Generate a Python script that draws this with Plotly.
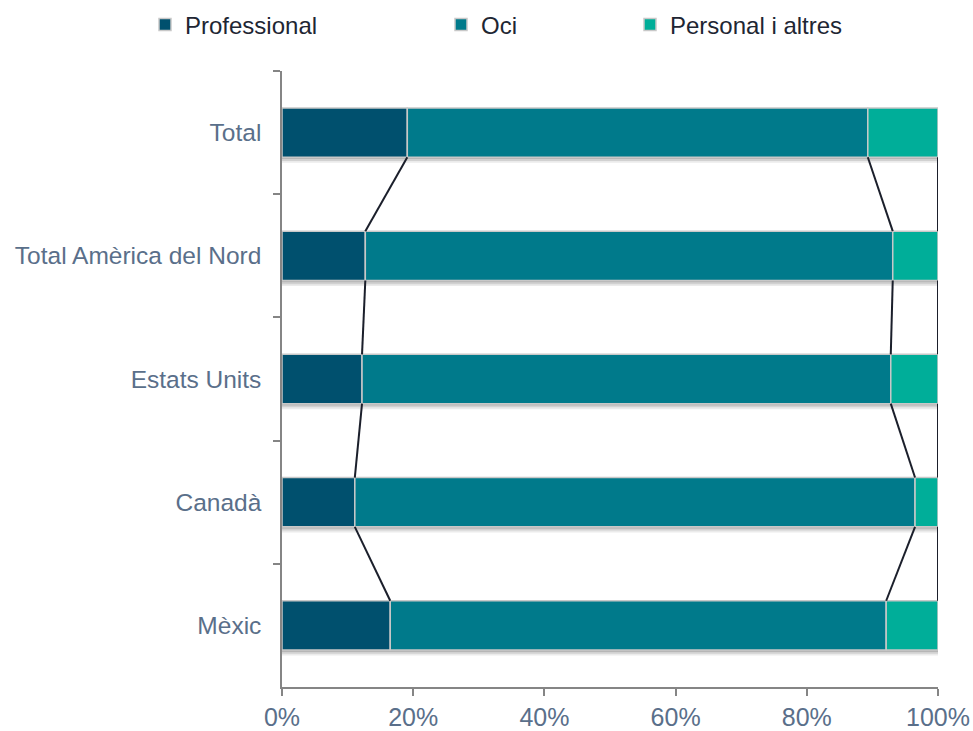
import plotly.graph_objects as go

categories = ["Total", "Total Amèrica del Nord", "Estats Units", "Canadà", "Mèxic"]
professional = [19.1, 12.7, 12.2, 11.1, 16.5]
oci = [70.2, 80.4, 80.6, 85.4, 75.6]
personal = [10.7, 6.9, 7.2, 3.5, 7.9]
x_ticks = [0, 20, 40, 60, 80, 100]
x_tick_labels = ["0%", "20%", "40%", "60%", "80%", "100%"]

series_names = ["Professional", "Oci", "Personal i altres"]
colors = ["#00506e", "#007a8b", "#00ae99"]

W, H = 973, 731
ml, mr, mt, mb = 282, 35, 71, 44
pw = W - ml - mr
ph = H - mt - mb

bw = 0.4
fig = go.Figure()

# soft shadow under bars
for off, alpha in [(0.045, 0.10), (0.03, 0.14), (0.015, 0.18)]:
    fig.add_trace(go.Bar(
        y=categories, x=[100] * len(categories), base=[0] * len(categories),
        orientation="h", width=bw, offset=-bw / 2 + off,
        marker=dict(color=f"rgba(60,60,60,{alpha})", line=dict(width=0)),
        showlegend=False, hoverinfo="skip"))

bases = [0] * len(categories)
legends = ["legend", "legend2", "legend3"]
for name, vals, col, lg in zip(series_names, [professional, oci, personal], colors, legends):
    fig.add_trace(go.Bar(
        y=categories, x=vals, base=list(bases), orientation="h", width=bw,
        name=name, legend=lg,
        marker=dict(color=col, line=dict(color="#c8c8c8", width=1.5))))
    bases = [b + v for b, v in zip(bases, vals)]

# series lines connecting the bar segment ends
cum1 = professional
cum2 = [a + b for a, b in zip(professional, oci)]
cum3 = [a + b + c for a, b, c in zip(professional, oci, personal)]
for cum in [cum1, cum2, cum3]:
    xs, ys = [], []
    for i in range(len(categories) - 1):
        xs += [cum[i], cum[i + 1], None]
        ys += [i + bw / 2, i + 1 - bw / 2, None]
    fig.add_trace(go.Scatter(x=xs, y=ys, yaxis="y2", mode="lines",
                             line=dict(color="#1b1f2b", width=2),
                             showlegend=False, hoverinfo="skip"))

def lx(px):
    return (px - ml) / pw

ly = 1 + (mt - 25) / ph
legend_common = dict(orientation="h", yanchor="middle", y=ly, xanchor="left",
                     font=dict(family="Liberation Sans, Arial", size=24, color="#1e2633"),
                     bgcolor="rgba(0,0,0,0)", itemclick=False)

fig.update_layout(
    width=W, height=H,
    margin=dict(l=ml, r=mr, t=mt, b=mb, autoexpand=False),
    paper_bgcolor="white", plot_bgcolor="white",
    barmode="overlay",
    font=dict(family="Liberation Sans, Arial"),
    legend=dict(x=lx(145), **legend_common),
    legend2=dict(x=lx(441), **legend_common),
    legend3=dict(x=lx(630), **legend_common),
    xaxis=dict(range=[0, 100], tickvals=x_ticks, ticktext=x_tick_labels,
               showgrid=False, zeroline=False, showline=True,
               linecolor="#858585", linewidth=1.5,
               ticks="outside", ticklen=7, tickcolor="#858585", tickwidth=1.5,
               tickfont=dict(size=25, color="#5a6f8a")),
    yaxis=dict(type="category", categoryorder="array", categoryarray=categories,
               range=[4.5, -0.5], tickson="boundaries",
               showgrid=False, zeroline=False, showline=True,
               linecolor="#858585", linewidth=1.5,
               ticks="outside", ticklen=7, tickcolor="#858585", tickwidth=1.5,
               ticklabelstandoff=14,
               tickfont=dict(size=24.5, color="#5a6f8a")),
    yaxis2=dict(overlaying="y", range=[4.5, -0.5], visible=False),
)

fig.write_html("out.html", config={"displayModeBar": False},
               post_script="document.body.style.margin='0px';document.body.style.overflow='hidden';")
